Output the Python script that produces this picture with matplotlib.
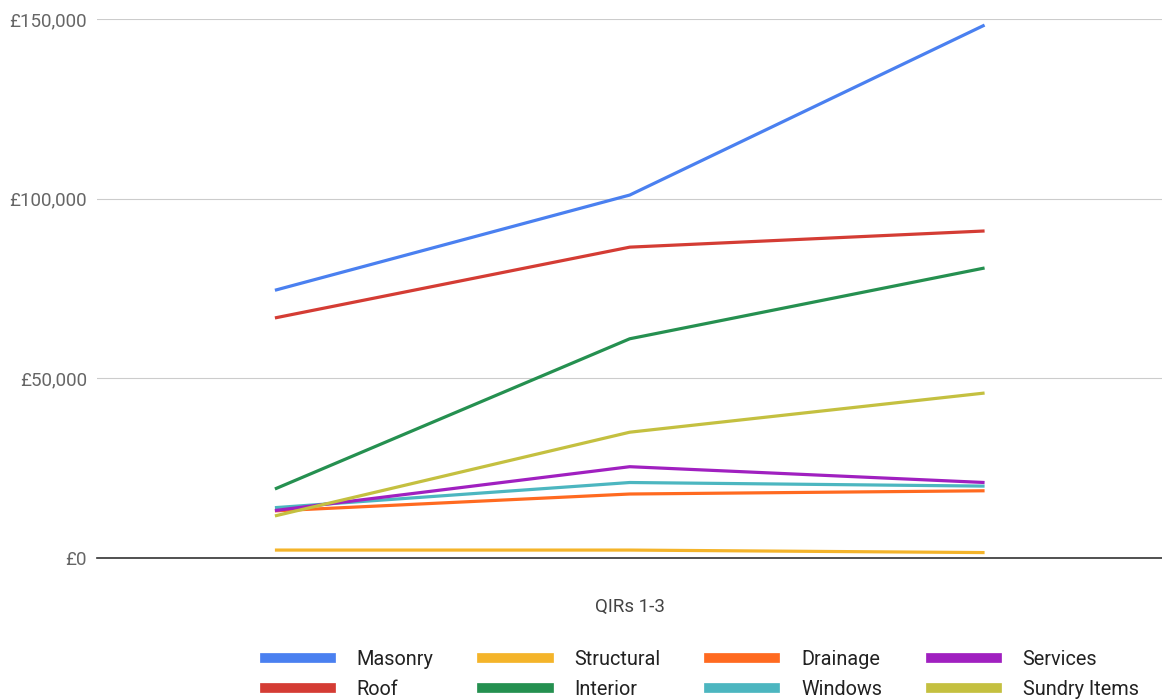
import matplotlib.pyplot as plt
from matplotlib.lines import Line2D
from matplotlib.ticker import FuncFormatter

plt.rcParams['font.family'] = ['Roboto', 'DejaVu Sans']

categories = ['QIR 1', 'QIR 2', 'QIR 3']
series_names = ['Masonry', 'Roof', 'Structural', 'Interior',
                'Drainage', 'Windows', 'Services', 'Sundry Items']
masonry = [74500, 101000, 148300]
roof = [66800, 86500, 91000]
structural = [2200, 2200, 1500]
interior = [19200, 61000, 80700]
drainage = [13100, 17800, 18700]
windows = [14000, 21000, 20000]
services = [13200, 25400, 21000]
sundry = [11700, 35000, 45900]
colors = ['#4a80f0', '#d43c34', '#f4b42a', '#259050',
          '#ff6a20', '#4cb6c0', '#a020c0', '#c4c040']
y_ticks = [0, 50000, 100000, 150000]

all_series = [masonry, roof, structural, interior, drainage, windows, services, sundry]

fig = plt.figure(figsize=(11.62, 7), dpi=100)
ax = fig.add_axes([0.0839, 0.2029, 0.9161, 0.77])

xs = range(len(categories))
for name, vals, c in zip(series_names, all_series, colors):
    ax.plot(xs, vals, color=c, linewidth=2.3, label=name, solid_capstyle='butt')

ax.set_xlim(-0.5, 2.5)
ax.set_ylim(0, 150000)
ax.set_yticks(y_ticks)
ax.yaxis.set_major_formatter(FuncFormatter(lambda v, p: '£{:,.0f}'.format(v)))
ax.set_xticks([])
ax.grid(axis='y', color='#cccccc', linewidth=0.8)
ax.set_axisbelow(True)
for s in ['top', 'right', 'left']:
    ax.spines[s].set_visible(False)
ax.spines['bottom'].set_color('#333333')
ax.spines['bottom'].set_linewidth(1.2)
ax.tick_params(axis='y', length=0, pad=7.5, labelsize=13.5, labelcolor='#666666')
ax.set_xlabel('QIRs 1-3', fontsize=13.5, color='#444444', labelpad=29)

# legend laid out row by row like the original (matplotlib fills by column)
row1 = ['Masonry', 'Structural', 'Drainage', 'Services']
row2 = ['Roof', 'Interior', 'Windows', 'Sundry Items']
handles = []
labels = []
for a, b in zip(row1, row2):
    for n in (a, b):
        i = series_names.index(n)
        handles.append(Line2D([], [], color=colors[i], linewidth=7))
        labels.append(n)
fig.legend(handles, labels, ncol=4, loc='lower left', bbox_to_anchor=(0.2126, -0.0237),
           frameon=False, fontsize=14.3, handlelength=3.33, handletextpad=1.3,
           columnspacing=2.45, labelspacing=0.55, labelcolor='#222222')

fig.savefig('out.png', dpi=100)
